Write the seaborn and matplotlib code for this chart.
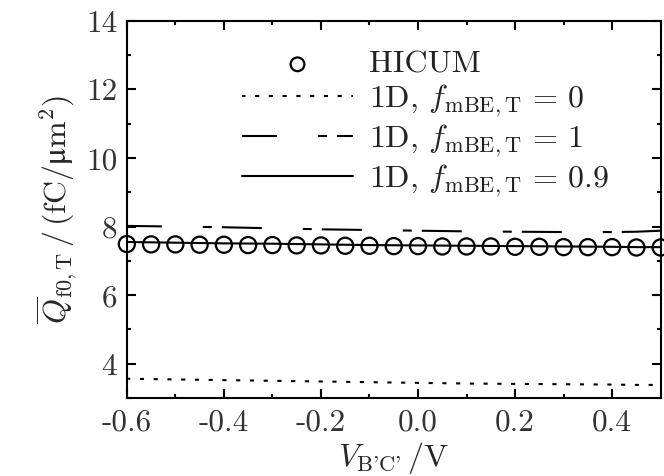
import numpy as np
import pandas as pd
import matplotlib
matplotlib.use("Agg")
import matplotlib.pyplot as plt
import seaborn as sns

# ---- data ----
v_hicum = [-0.60, -0.55, -0.50, -0.45, -0.40, -0.35, -0.30, -0.25, -0.20, -0.15, -0.10, -0.05,
           0.00, 0.05, 0.10, 0.15, 0.20, 0.25, 0.30, 0.35, 0.40, 0.45, 0.50]
q_hicum = [7.49, 7.48, 7.48, 7.47, 7.47, 7.46, 7.46, 7.45, 7.45, 7.44, 7.44, 7.43,
           7.43, 7.42, 7.42, 7.42, 7.41, 7.41, 7.40, 7.40, 7.40, 7.39, 7.39]

v_1d = [-0.6, -0.5, -0.4, -0.3, -0.2, -0.1, 0.0, 0.1, 0.2, 0.3, 0.4, 0.45, 0.5]
q_f0 = [3.56, 3.54, 3.52, 3.50, 3.48, 3.46, 3.44, 3.42, 3.41, 3.40, 3.39, 3.38, 3.38]
q_f1 = [8.02, 8.00, 7.98, 7.95, 7.92, 7.90, 7.88, 7.86, 7.85, 7.84, 7.84, 7.85, 7.88]
q_f09 = [7.55, 7.53, 7.51, 7.50, 7.48, 7.46, 7.45, 7.44, 7.43, 7.42, 7.41, 7.40, 7.40]

x_ticks = [-0.6, -0.4, -0.2, 0.0, 0.2, 0.4]
x_ticklabels = ["-0.6", "-0.4", "-0.2", "0.0", "0.2", "0.4"]
y_ticks = [4, 6, 8, 10, 12, 14]
y_ticklabels = ["4", "6", "8", "10", "12", "14"]

labels = ["HICUM",
          r"1D, $f_{\mathrm{mBE,T}}\,=\,0$",
          r"1D, $f_{\mathrm{mBE,T}}\,=\,1$",
          r"1D, $f_{\mathrm{mBE,T}}\,=\,0.9$"]

sns.set_style("ticks")
plt.rcParams.update({
    "font.family": ["cmr10", "DejaVu Serif"],
    "mathtext.fontset": "cm",
    "axes.unicode_minus": False,
    "axes.formatter.use_mathtext": True,
    "lines.scale_dashes": False,
    "axes.linewidth": 1.5,
    "axes.edgecolor": "black",
    "xtick.color": "black",
    "ytick.color": "black",
    "text.color": "#222222",
})

fig = plt.figure(figsize=(6.64, 4.76), dpi=100)
ax = fig.add_axes([0.191, 0.164, 0.804, 0.792])

df_h = pd.DataFrame({"V": v_hicum, "Q": q_hicum})
df_1 = pd.DataFrame({"V": v_1d, "f0": q_f0, "f1": q_f1, "f09": q_f09})

sns.lineplot(data=df_1, x="V", y="f0", ax=ax, color="black", lw=1.5,
             linestyle=(0.5, (3.0, 6.9)), label=labels[1])
sns.lineplot(data=df_1, x="V", y="f1", ax=ax, color="black", lw=1.5,
             linestyle=(3.6, (28.8, 29.5, 6.5, 7.2)), label=labels[2])
sns.lineplot(data=df_1, x="V", y="f09", ax=ax, color="black", lw=1.5,
             linestyle="-", label=labels[3])
sns.scatterplot(data=df_h, x="V", y="Q", ax=ax, marker="o", s=135,
                facecolor="none", edgecolor="black", linewidth=1.6,
                label=labels[0], clip_on=False, zorder=5)

ax.set_xlim(-0.6, 0.5)
ax.set_ylim(3, 14)
ax.set_xticks(x_ticks)
ax.set_xticklabels(x_ticklabels)
ax.set_yticks(y_ticks)
ax.set_yticklabels(y_ticklabels)
ax.xaxis.set_minor_locator(matplotlib.ticker.MultipleLocator(0.1))
ax.yaxis.set_minor_locator(matplotlib.ticker.MultipleLocator(1))
ax.tick_params(which="both", direction="in", top=True, right=True, width=1.5,
               labelsize=22.5, labelcolor="#333333")
ax.tick_params(which="major", length=6.5)
ax.tick_params(which="minor", length=3.2)
ax.tick_params(axis="x", which="major", pad=8)
ax.tick_params(axis="y", which="major", pad=7)

ax.set_xlabel(r"$V_{\text{B'C'}}\,/\mathrm{V}$", fontsize=23, labelpad=2)
ax.set_ylabel(r"$\overline{Q}_{\mathrm{f0,T}}\,/\,(\mathrm{fC}/\mathrm{μm}^2)$",
              fontsize=23, labelpad=5)

handles, labs = ax.get_legend_handles_labels()
order = [labs.index(l) for l in labels]
ax.legend([handles[i] for i in order], [labs[i] for i in order],
          loc="upper left", bbox_to_anchor=(0.215, 0.922), frameon=False,
          fontsize=23, handlelength=3.5, handletextpad=0.5, markerscale=0.85,
          labelspacing=0.12, borderpad=0, borderaxespad=0)

fig.savefig("out.png", dpi=100)
